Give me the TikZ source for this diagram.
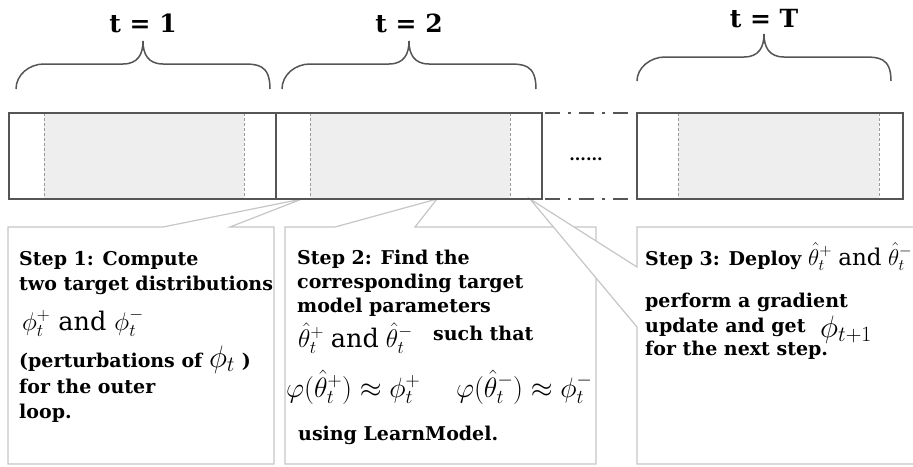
\RequirePackage{fix-cm}
\documentclass[tikz,border=0pt]{standalone}
\usepackage{fontspec}
\setmainfont{DejaVu Serif}
\usepackage{amsmath,amssymb}
\usepackage{xcolor}
\usepackage{tikz}
\usetikzlibrary{calc}

\definecolor{barline}{HTML}{555555}
\definecolor{barfill}{HTML}{EEEEEE}
\definecolor{splitline}{HTML}{9A9A9A}
\definecolor{boxline}{HTML}{C6C6C6}

\newcommand{\stepfont}{\fontsize{19}{24}\selectfont\bfseries}
\newcommand{\mathfont}{\fontsize{25.5}{30}\selectfont}
\newcommand{\titlefont}{\fontsize{25}{30}\selectfont\bfseries}

\begin{document}
\begin{tikzpicture}[x=1pt,y=-1pt,
    bar/.style={draw=barline, line width=2.8pt},
    split/.style={draw=splitline, line width=0.8pt, dash pattern=on 3pt off 2pt},
    gap/.style={draw=barline, line width=2.8pt, dash pattern=on 15pt off 8pt on 3pt off 8pt},
    callout/.style={draw=boxline, line width=1.2pt, fill=white},
    brace/.style={draw=barline, line width=1.5pt},
    title/.style={anchor=base, inner sep=0pt, font=\titlefont},
    txt/.style={anchor=base west, inner sep=0pt, font=\stepfont},
    mth/.style={anchor=base west, inner sep=0pt, font=\mathfont}]
    \useasboundingbox (0,0) rectangle (913,466);
    \clip (0,0) rectangle (913,466);

    % pointer tips on the bar
    \coordinate (p1) at (302,199);
    \coordinate (p2) at (437,199);
    \coordinate (p3) at (530,199);

    % step boxes
    \draw[callout] (8,227) -- (163,227) -- (p1) -- (230,227) -- (274,227) -- (274,464) -- (8,464) -- cycle;
    \draw[callout] (285,227) -- (335,227) -- (p2) -- (415,227) -- (596,227) -- (596,464) -- (285,464) -- cycle;
    \draw[callout] (637,267) -- (p3) -- (637,327) -- (637,464) -- (930,464) -- (930,227) -- (637,227) -- cycle;

    % time blocks
    \foreach \a/\b in {44/244, 310/510, 678/879}
        {
          \fill[barfill] (\a,113) rectangle (\b,199);
          \draw[split] (\a,113) -- (\a,199);
          \draw[split] (\b,113) -- (\b,199);
        };
    \foreach \l/\r in {9/276, 276/542, 637/903}
        {
          \draw[bar] (\l,113) rectangle (\r,199);
        };
    \draw[gap] (545,113) -- (634,113);
    \draw[gap] (545,199) -- (634,199);
    \node[font=\fontsize{16}{18}\selectfont\bfseries, inner sep=0pt, anchor=base] (dots) at (586,160) {......};

    % braces
    \foreach \x/\y/\z in {16/89/64, 282/89/64, 637/81/57}
        {
          \draw[brace] (\x,\y) .. controls (\x,\z+11) and (\x+13,\z) .. (\x+28,\z) -- (\x+107,\z)
            .. controls (\x+122,\z) and (\x+127,\z-10) .. (\x+127,\z-23)
            .. controls (\x+127,\z-10) and (\x+132,\z) .. (\x+147,\z) -- (\x+226,\z)
            .. controls (\x+241,\z) and (\x+254,\z) .. (\x+254,\y);
        };
    \node[title] (t1) at (143,32) {t = 1};
    \node[title] (t2) at (409,32) {t = 2};
    \node[title] (tT) at (764,27) {t = T};

    % step 1
    \node[txt] (s1a) at (19,265) {Step 1: Compute};
    \node[txt] (s1b) at (19,290) {two target distributions};
    \node[mth] (s1c) at (22,330) {$\phi_t^+\ \mathrm{and}\ \phi_t^-$};
    \node[txt] (s1d) at (19,367) {(perturbations of {\fontsize{31}{34}\selectfont$\phi_t$} )};
    \node[txt] (s1e) at (19,393) {for the outer};
    \node[txt] (s1f) at (19,418) {loop.};

    % step 2
    \node[txt] (s2a) at (297,264) {Step 2: Find the};
    \node[txt] (s2b) at (297,288) {corresponding target};
    \node[txt] (s2c) at (297,312) {model parameters};
    \node[mth] (s2d) at (298,347) {$\hat{\theta}_t^+\;\mathrm{and}\;\hat{\theta}_t^-$};
    \node[txt] (s2e) at (433,340) {such that};
    \node[mth, font=\fontsize{28}{32}\selectfont] (s2f) at (286,397) {$\varphi(\hat{\theta}_t^+)\approx\phi_t^+\quad\;\varphi(\hat{\theta}_t^-)\approx\phi_t^-$};
    \node[txt] (s2g) at (298,440) {using LearnModel.};

    % step 3
    \node[txt] (s3a) at (645,265) {Step 3: Deploy {\fontsize{23}{28}\selectfont$\hat{\theta}_t^+\;\mathrm{and}\;\hat{\theta}_t^-$}};
    \node[txt] (s3b) at (645,307) {perform a gradient};
    \node[txt] (s3c) at (645,332) {update and get};
    \node[mth, font=\fontsize{31}{34}\selectfont] (s3d) at (820,337) {$\phi_{t+1}$};
    \node[txt] (s3e) at (645,355) {for the next step.};
\end{tikzpicture}
\end{document}
